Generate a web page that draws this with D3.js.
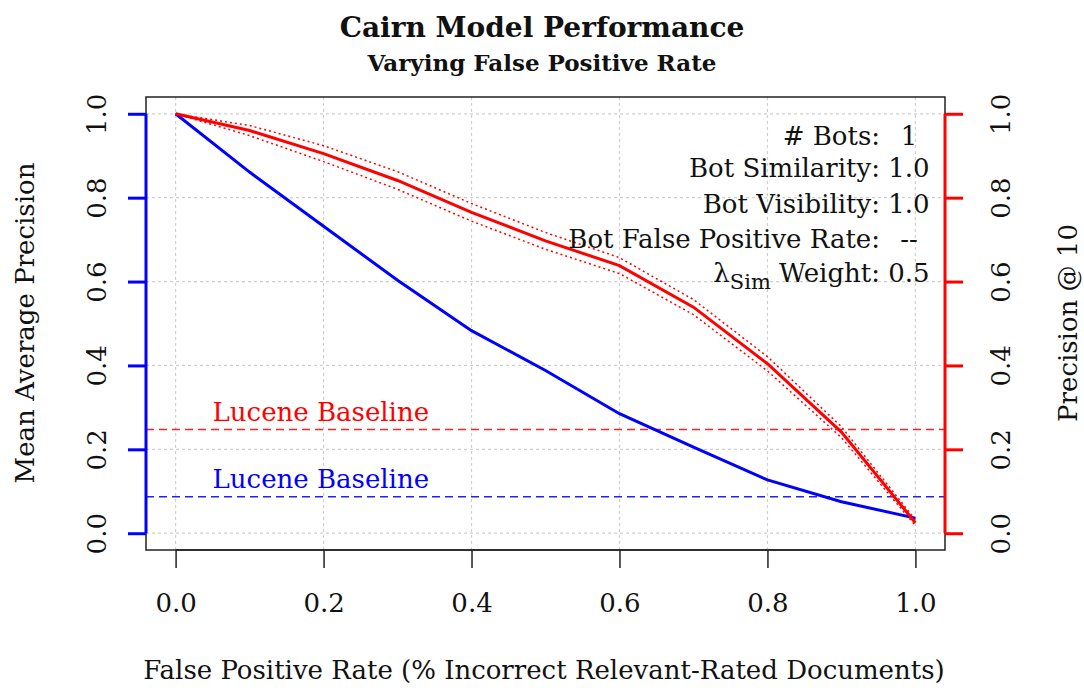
<!DOCTYPE html>
<html>
<head>
<meta charset="utf-8">
<script src="https://cdn.jsdelivr.net/npm/d3@7"></script>
<style>
  body { margin: 0; background: #fff; }
  text { font-family: "DejaVu Serif", serif; }
</style>
</head>
<body>
<div id="chart"></div>
<script>
// Data
const fprRates  = [0.0, 0.1, 0.2, 0.3, 0.4, 0.5, 0.6, 0.7, 0.8, 0.9, 1.0];
const mapValues = [1.000, 0.861, 0.732, 0.603, 0.483, 0.388, 0.285, 0.205, 0.127, 0.075, 0.036];
const p10Values = [1.000, 0.960, 0.905, 0.841, 0.765, 0.697, 0.638, 0.539, 0.404, 0.241, 0.025];
const p10Upper  = [1.000, 0.972, 0.924, 0.862, 0.786, 0.717, 0.657, 0.557, 0.421, 0.254, 0.032];
const p10Lower  = [1.000, 0.948, 0.886, 0.820, 0.744, 0.677, 0.619, 0.521, 0.387, 0.228, 0.018];
const mapBaseline = 0.087;
const p10Baseline = 0.247;
const tickValues  = [0.0, 0.2, 0.4, 0.6, 0.8, 1.0];
const legendLabels = ["# Bots", "Bot Similarity", "Bot Visibility", "Bot False Positive Rate", "Weight"];
const legendValues = ["1", "1.0", "1.0", "--", "0.5"];

// SVG attrs
const width = 1084, height = 690;
const box = {left: 146, right: 945, top: 97, bottom: 550};
const fontSize = 26;

const svg = d3.select("#chart").append("svg")
    .attr("width", width)
    .attr("height", height);
svg.append("rect").attr("width", width).attr("height", height).attr("fill", "#fff");

// R style scales, 4% padding on each side
const x = d3.scaleLinear().domain([-0.04, 1.04]).range([box.left, box.right]);
const yMap = d3.scaleLinear().domain([-0.04, 1.04]).range([box.bottom, box.top]);
const yP10 = d3.scaleLinear().domain([-0.04, 1.04]).range([box.bottom, box.top]);

// Grid
const grid = svg.append("g").attr("class", "grid")
    .attr("stroke", "#cfcfcf").attr("stroke-width", 1.2).attr("stroke-dasharray", "3,3");
grid.selectAll("line.v").data(tickValues).join("line")
    .attr("class", "v")
    .attr("x1", d => x(d)).attr("x2", d => x(d))
    .attr("y1", box.top).attr("y2", box.bottom);
grid.selectAll("line.h").data(tickValues).join("line")
    .attr("class", "h")
    .attr("x1", box.left).attr("x2", box.right)
    .attr("y1", d => yMap(d)).attr("y2", d => yMap(d));

// Box
svg.append("rect")
    .attr("x", box.left).attr("y", box.top)
    .attr("width", box.right - box.left).attr("height", box.bottom - box.top)
    .attr("fill", "none").attr("stroke", "#222").attr("stroke-width", 1.5);

// Baselines
svg.append("line")
    .attr("x1", box.left).attr("x2", box.right)
    .attr("y1", yP10(p10Baseline)).attr("y2", yP10(p10Baseline))
    .attr("stroke", "#ff2020").attr("stroke-width", 1.5).attr("stroke-dasharray", "8,5");
svg.append("line")
    .attr("x1", box.left).attr("x2", box.right)
    .attr("y1", yMap(mapBaseline)).attr("y2", yMap(mapBaseline))
    .attr("stroke", "#2020ff").attr("stroke-width", 1.5).attr("stroke-dasharray", "8,5");
svg.append("text")
    .attr("x", x(0.05)).attr("y", yP10(p10Baseline) - 9)
    .attr("fill", "#ff0000").attr("font-size", fontSize)
    .text("Lucene Baseline");
svg.append("text")
    .attr("x", x(0.05)).attr("y", yMap(mapBaseline) - 9)
    .attr("fill", "#0000ff").attr("font-size", fontSize)
    .text("Lucene Baseline");

// Lines
const lineOf = (scale, values) => d3.line()
    .x((d, i) => x(fprRates[i]))
    .y((d, i) => scale(values[i]));

[p10Upper, p10Lower].forEach(band => {
  svg.append("path")
      .datum(band)
      .attr("d", lineOf(yP10, band))
      .attr("fill", "none").attr("stroke", "#ff0000")
      .attr("stroke-width", 1.5).attr("stroke-dasharray", "2,3");
});
svg.append("path")
    .datum(mapValues)
    .attr("d", lineOf(yMap, mapValues))
    .attr("fill", "none").attr("stroke", "#0000ff").attr("stroke-width", 3);
svg.append("path")
    .datum(p10Values)
    .attr("d", lineOf(yP10, p10Values))
    .attr("fill", "none").attr("stroke", "#ff0000").attr("stroke-width", 3);

// Axis X
const axisX = svg.append("g")
    .attr("transform", "translate(0," + box.bottom + ")")
    .call(d3.axisBottom(x).tickValues(tickValues).tickFormat(d3.format(".1f")).tickSize(18).tickPadding(26));
axisX.select(".domain").remove();
axisX.append("line")
    .attr("x1", x(0)).attr("x2", x(1)).attr("stroke", "#222").attr("stroke-width", 1.5);
axisX.selectAll(".tick line").attr("stroke", "#222").attr("stroke-width", 1.5);
axisX.selectAll(".tick text").attr("font-size", fontSize).attr("fill", "#111")
    .attr("font-family", "DejaVu Serif");

// Axis Y left (MAP, blue)
const axisL = svg.append("g")
    .attr("transform", "translate(" + box.left + ",0)")
    .call(d3.axisLeft(yMap).tickValues(tickValues).tickFormat(d3.format(".1f")).tickSize(18));
axisL.select(".domain").remove();
axisL.append("line")
    .attr("y1", yMap(0)).attr("y2", yMap(1)).attr("stroke", "#0000ff").attr("stroke-width", 3);
axisL.selectAll(".tick line").attr("stroke", "#0000ff").attr("stroke-width", 3);
axisL.selectAll(".tick text")
    .attr("font-size", fontSize).attr("fill", "#111").attr("font-family", "DejaVu Serif")
    .attr("x", null).attr("dy", null)
    .attr("text-anchor", "middle")
    .attr("transform", "translate(-49,0) rotate(-90)")
    .attr("dominant-baseline", "central");

// Axis Y right (P@10, red)
const axisR = svg.append("g")
    .attr("transform", "translate(" + box.right + ",0)")
    .call(d3.axisRight(yP10).tickValues(tickValues).tickFormat(d3.format(".1f")).tickSize(18));
axisR.select(".domain").remove();
axisR.append("line")
    .attr("y1", yP10(0)).attr("y2", yP10(1)).attr("stroke", "#ff0000").attr("stroke-width", 3);
axisR.selectAll(".tick line").attr("stroke", "#ff0000").attr("stroke-width", 3);
axisR.selectAll(".tick text")
    .attr("font-size", fontSize).attr("fill", "#111").attr("font-family", "DejaVu Serif")
    .attr("x", null).attr("dy", null)
    .attr("text-anchor", "middle")
    .attr("transform", "translate(56,0) rotate(-90)")
    .attr("dominant-baseline", "central");

// Titles
svg.append("text")
    .attr("x", 542).attr("y", 37).attr("text-anchor", "middle")
    .attr("font-size", 28).attr("font-weight", "bold").attr("fill", "#111")
    .text("Cairn Model Performance");
svg.append("text")
    .attr("x", 542).attr("y", 71).attr("text-anchor", "middle")
    .attr("font-size", 23).attr("font-weight", "bold").attr("fill", "#111")
    .text("Varying False Positive Rate");

svg.append("text")
    .attr("x", 544).attr("y", 679).attr("text-anchor", "middle")
    .attr("font-size", fontSize).attr("fill", "#111")
    .text("False Positive Rate (% Incorrect Relevant-Rated Documents)");
svg.append("text")
    .attr("transform", "translate(25,323) rotate(-90)")
    .attr("text-anchor", "middle").attr("dominant-baseline", "central")
    .attr("font-size", fontSize).attr("fill", "#111")
    .text("Mean Average Precision");
svg.append("text")
    .attr("transform", "translate(1068,323) rotate(-90)")
    .attr("text-anchor", "middle").attr("dominant-baseline", "central")
    .attr("font-size", fontSize).attr("fill", "#111")
    .text("Precision @ 10");

// Legend (parameters)
const legendY = [145, 177, 213, 248, 282];
const legend = svg.append("g").attr("font-size", fontSize).attr("fill", "#111");
legendLabels.forEach((label, i) => {
  const t = legend.append("text")
      .attr("x", 880).attr("y", legendY[i]).attr("text-anchor", "end");
  if (label === "Weight") {
    t.append("tspan").text("\u03bb");
    t.append("tspan").attr("font-size", 21).attr("dy", 7).text("Sim");
    t.append("tspan").attr("dy", -7).text(" Weight:");
  } else {
    t.text(label + ":");
  }
  legend.append("text")
      .attr("x", 909).attr("y", legendY[i]).attr("text-anchor", "middle")
      .text(legendValues[i]);
});
</script>
</body>
</html>
